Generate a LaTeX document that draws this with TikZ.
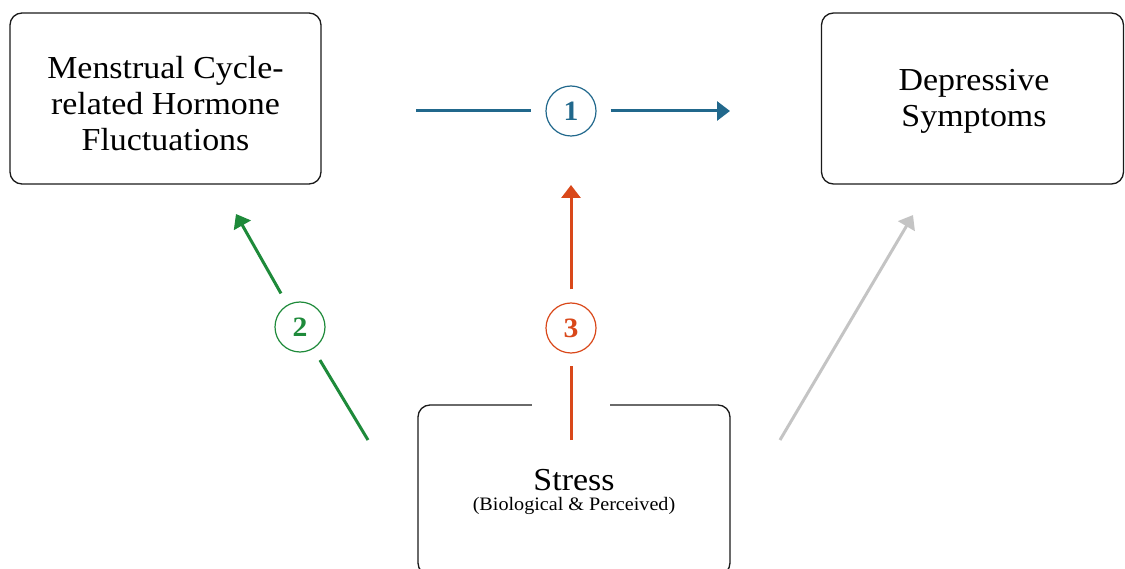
\documentclass[tikz,border=0pt]{standalone}
\usepackage{fontspec}
\setmainfont[FakeStretch=1.06]{Liberation Serif}
\usetikzlibrary{arrows.meta}
\definecolor{cblue}{RGB}{33,104,140}
\definecolor{cred}{RGB}{217,72,26}
\definecolor{cgreen}{RGB}{30,138,58}
\definecolor{cgray}{RGB}{196,196,196}
\definecolor{cborder}{RGB}{26,26,26}
\tikzset{
  box/.style={draw=cborder, line width=1.3pt, rounded corners=12pt, minimum width=311pt, minimum height=171pt, inner sep=0pt},
  bigtxt/.style={align=center, inner sep=0pt, font=\fontsize{32}{36}\selectfont},
  numc/.style={circle, draw=#1, text=#1, line width=1.2pt, minimum size=50pt, inner sep=0pt, font=\fontsize{28}{28}\selectfont\bfseries},
  conn/.style={draw=#1, line width=3pt, -{Triangle[length=13pt,width=19pt]}},
  seg/.style={draw=#1, line width=3pt}
}
\begin{document}
\begin{tikzpicture}[x=1pt,y=-1pt]
\useasboundingbox (0,0) rectangle (1125,569);
% boxes
\node[box] (A) at (165.5,98.5) {};
\node[bigtxt] (At) at (165.5,104) {Menstrual Cycle-\\related Hormone\\Fluctuations};
\node[box, minimum width=302pt] (B) at (972.5,98.5) {};
\node[bigtxt] (Bt) at (974,101) {Depressive\\Symptoms};
\node[box, minimum width=312pt, minimum height=170pt] (C) at (574,490) {};
\node[inner sep=0pt, font=\fontsize{32}{32}\selectfont] (Ct) at (574,480) {Stress};
\node[inner sep=0pt, font=\fontsize{19}{21}\selectfont] (Cs) at (574,506) {(Biological \& Perceived)};
\fill[white] (532,400) rectangle (610,410);
% numbered circles
\node[numc=cblue] (n1) at (571,111) {1};
\node[numc=cgreen] (n2) at (300,327) {2};
\node[numc=cred] (n3) at (571,328) {3};
% free ends
\coordinate (p1s) at (416,111);
\coordinate (p1e) at (730,111);
\coordinate (p2s) at (368,440);
\coordinate (p2e) at (236,214);
\coordinate (p3s) at (571,440);
\coordinate (p3e) at (571,185);
\coordinate (p4s) at (780,440);
\coordinate (p4e) at (913,215);
% connectors
\draw[seg=cblue, shorten >=14pt] (p1s) -- (n1);
\draw[conn=cblue, shorten <=14pt] (n1) -- (p1e);
\draw[seg=cgreen, shorten >=13pt] (p2s) -- (n2);
\draw[conn=cgreen, shorten <=13pt] (n2) -- (p2e);
\draw[seg=cred, shorten >=12pt] (p3s) -- (n3);
\draw[conn=cred, shorten <=13pt] (n3) -- (p3e);
\draw[conn=cgray] (p4s) -- (p4e);
\end{tikzpicture}
\end{document}
